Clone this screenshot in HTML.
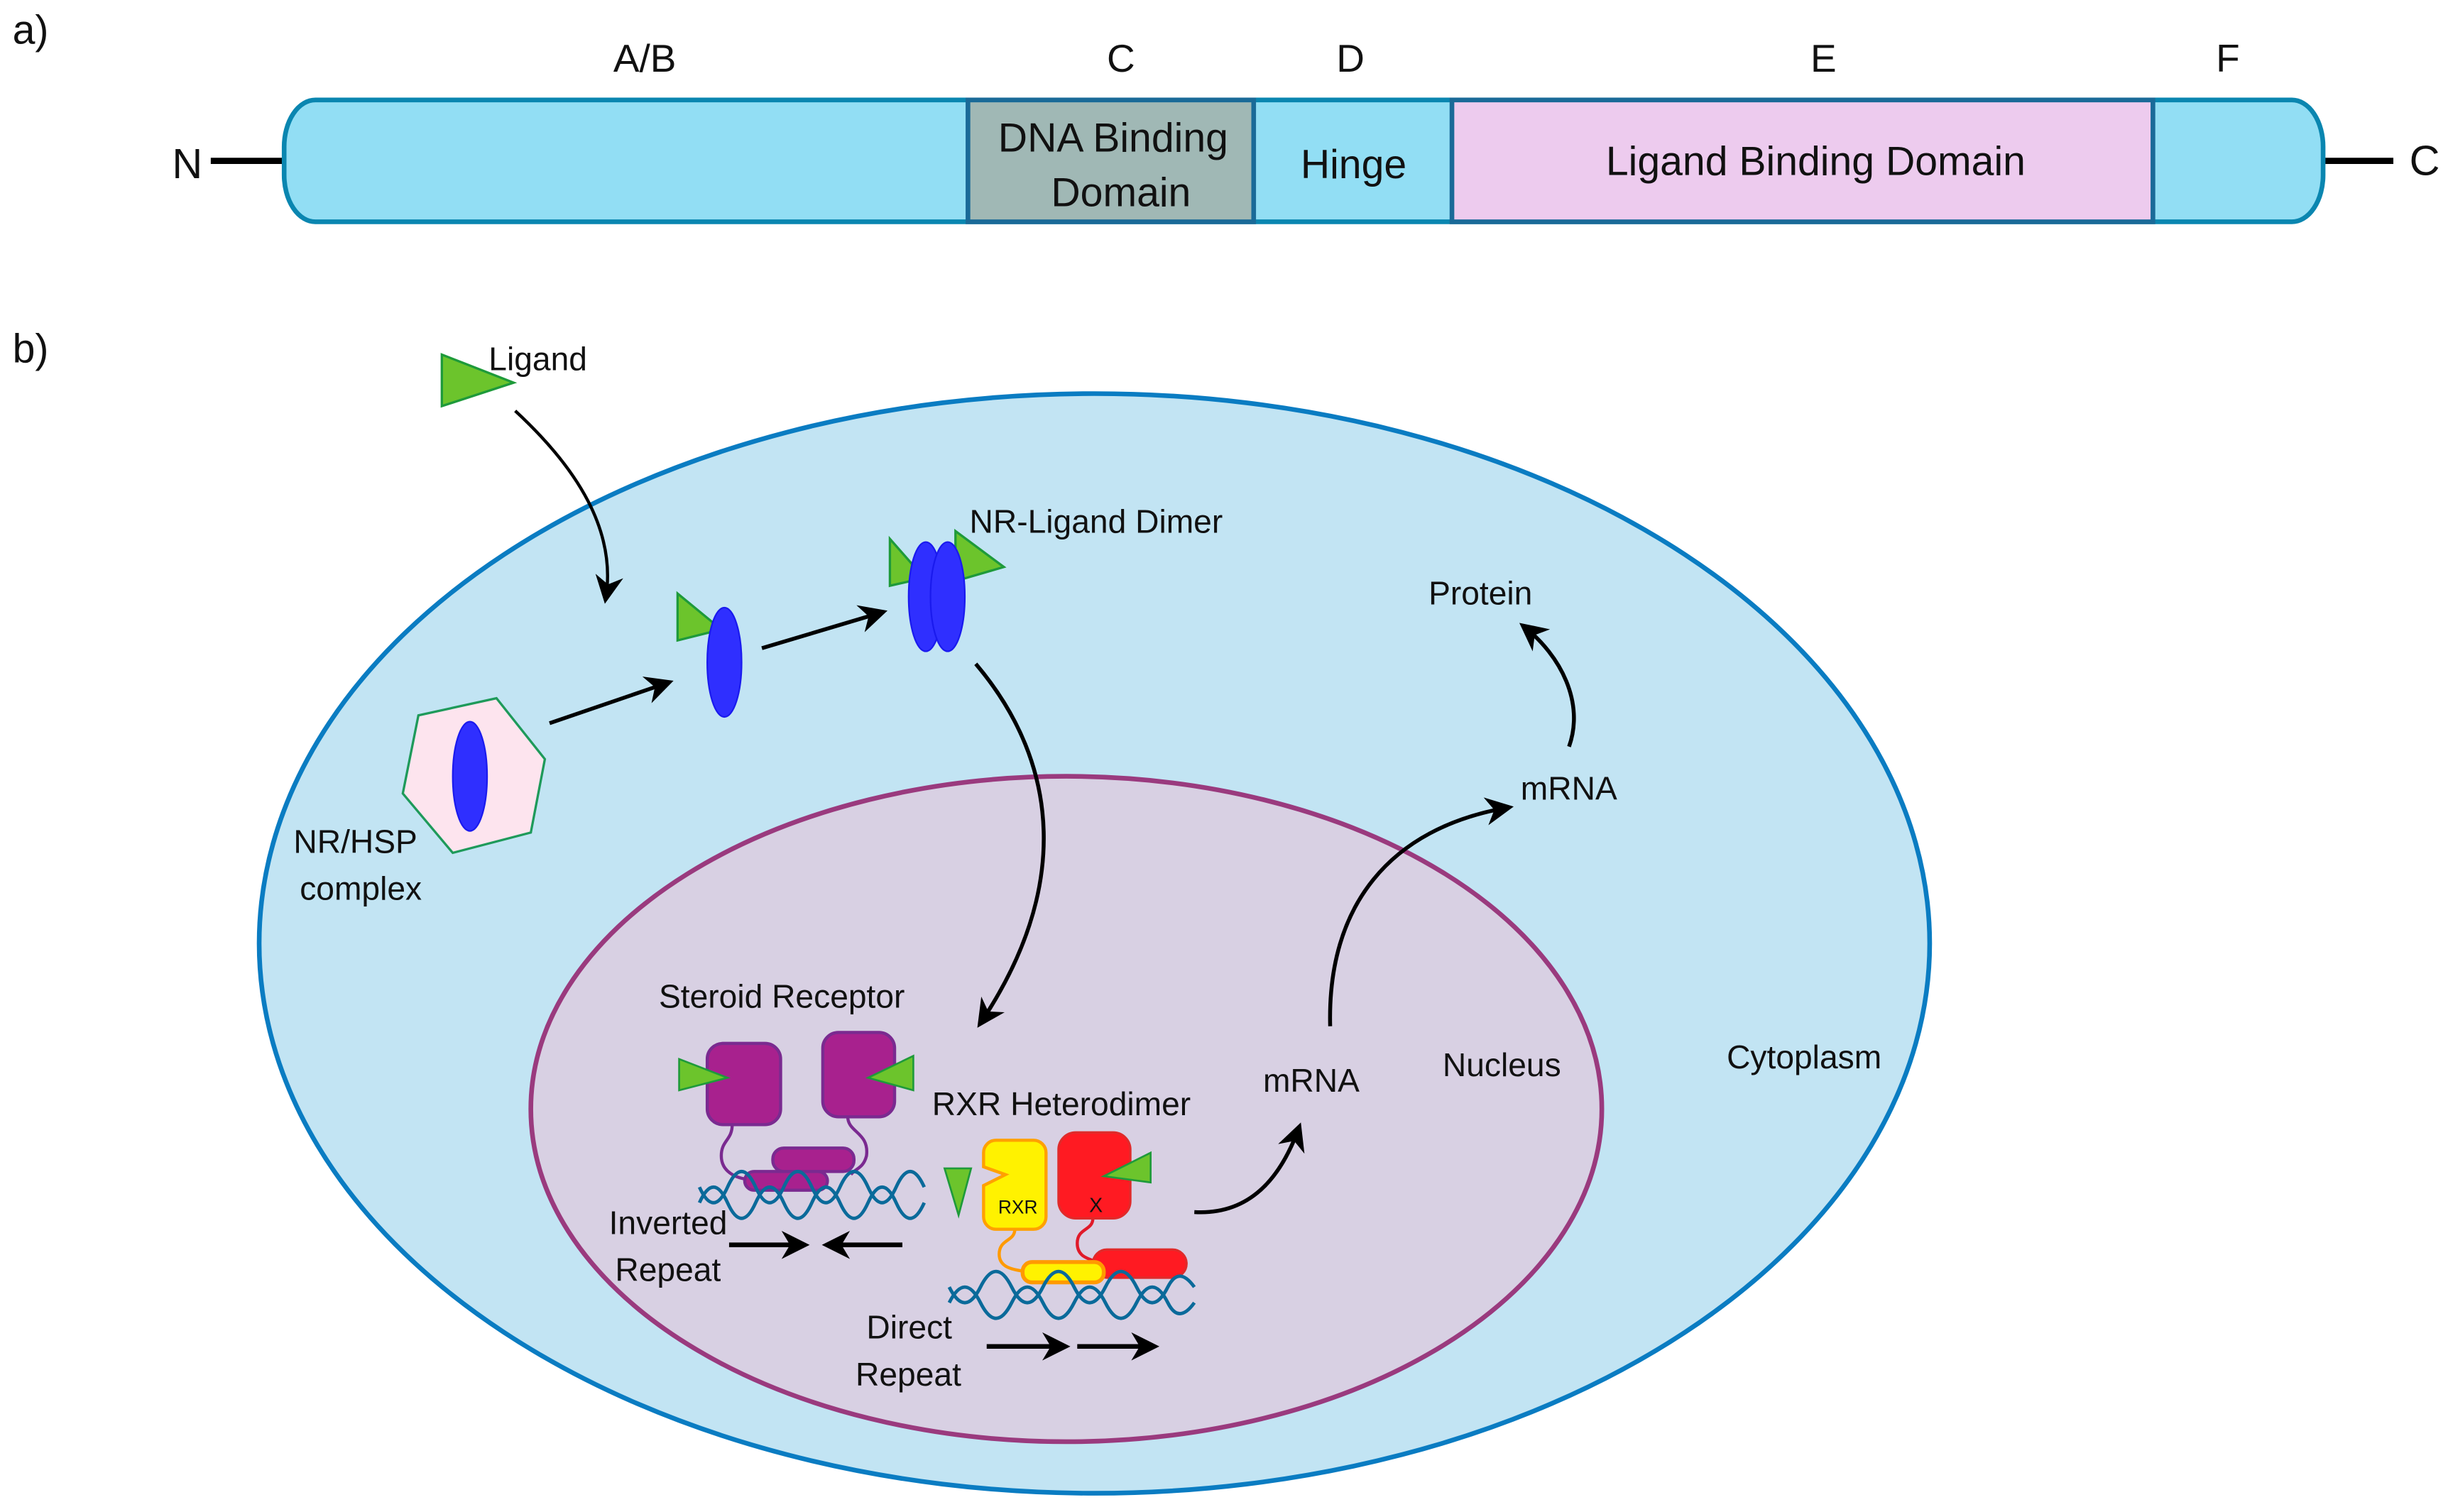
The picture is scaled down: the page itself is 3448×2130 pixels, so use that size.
<!DOCTYPE html>
<html><head><meta charset="utf-8"><style>
html,body{margin:0;padding:0;background:#fff}
svg{display:block}
text{font-family:"Liberation Sans",sans-serif;fill:#111}
</style></head><body>
<svg width="3448" height="2130" viewBox="0 0 1568 968" preserveAspectRatio="none" xmlns="http://www.w3.org/2000/svg">
<defs>
<marker id="ah2" viewBox="0 0 10 10" refX="8" refY="5" markerWidth="18" markerHeight="18" orient="auto" markerUnits="userSpaceOnUse">
<path d="M0,0 L10,5 L0,10 L3,5 Z" fill="#000"/></marker>
</defs>
<!-- panel a -->
<text x="8" y="28" font-size="26">a)</text>
<text x="413" y="46" font-size="25" text-anchor="middle">A/B</text>
<text x="718" y="46" font-size="25" text-anchor="middle">C</text>
<text x="865" y="46" font-size="25" text-anchor="middle">D</text>
<text x="1168" y="46" font-size="25" text-anchor="middle">E</text>
<text x="1427" y="46" font-size="25" text-anchor="middle">F</text>
<line x1="135" y1="103" x2="183" y2="103" stroke="#000" stroke-width="4"/>
<line x1="1488" y1="103" x2="1533" y2="103" stroke="#000" stroke-width="4"/>
<text x="120" y="114" font-size="27" text-anchor="middle">N</text>
<text x="1553" y="112" font-size="27" text-anchor="middle">C</text>
<rect x="182" y="64" width="1306" height="78" rx="20" ry="30" fill="#92def4" stroke="#0a86b0" stroke-width="3"/>
<rect x="620" y="64" width="183" height="78" fill="#a0b8b5" stroke="#1a6a98" stroke-width="3"/>
<rect x="930" y="64" width="449" height="78" fill="#edcbee" stroke="#1a6a98" stroke-width="3"/>
<text x="713" y="97" font-size="26" text-anchor="middle">DNA Binding</text>
<text x="718" y="132" font-size="26" text-anchor="middle">Domain</text>
<text x="867" y="114" font-size="26" text-anchor="middle">Hinge</text>
<text x="1163" y="112" font-size="26" text-anchor="middle">Ligand Binding Domain</text>
<!-- panel b -->
<text x="8" y="232" font-size="26">b)</text>
<ellipse cx="701" cy="604" rx="535" ry="352" fill="#c2e4f3" stroke="#0a7cc2" stroke-width="3"/>
<ellipse cx="683" cy="710" rx="343" ry="213" fill="#d8d0e3" stroke="#9a3a7e" stroke-width="3"/>
<polygon points="283,227 283,260 329,245" fill="#6cc42c" stroke="#1e9a3a" stroke-width="1.5"/>
<text x="313" y="237" font-size="21">Ligand</text>
<path d="M330,263 C370,300 395,340 388,383" fill="none" stroke="#000" stroke-width="2" marker-end="url(#ah2)"/>
<polygon points="268,458 318,447 349,486 340,533 290,546 258,508" fill="#fde4ee" stroke="#1e9a5a" stroke-width="1.5"/>
<ellipse cx="301" cy="497" rx="11" ry="35" fill="#2f2fff" stroke="#1a1aee"/>
<text x="188" y="546" font-size="21">NR/HSP</text>
<text x="192" y="576" font-size="21">complex</text>
<path d="M352,463 L428,437" stroke="#000" stroke-width="2.5" marker-end="url(#ah2)"/>
<polygon points="434,380 434,410 462,403" fill="#6cc42c" stroke="#1e9a3a" stroke-width="1.5"/>
<ellipse cx="464" cy="424" rx="11" ry="35" fill="#2f2fff" stroke="#1a1aee"/>
<path d="M488,415 L565,392" stroke="#000" stroke-width="2.5" marker-end="url(#ah2)"/>
<polygon points="570,345 570,375 592,370" fill="#6cc42c" stroke="#1e9a3a" stroke-width="1.5"/>
<polygon points="612,340 612,372 643,363" fill="#6cc42c" stroke="#1e9a3a" stroke-width="1.5"/>
<ellipse cx="593" cy="382" rx="11" ry="35" fill="#2f2fff" stroke="#1a1aee"/>
<ellipse cx="607" cy="382" rx="11" ry="35" fill="#2f2fff" stroke="#1a1aee"/>
<text x="621" y="341" font-size="21">NR-Ligand Dimer</text>
<path d="M625,425 C680,490 685,570 628,655" fill="none" stroke="#000" stroke-width="2.5" marker-end="url(#ah2)"/>
<text x="915" y="387" font-size="21">Protein</text>
<text x="974" y="512" font-size="21">mRNA</text>
<path d="M1005,478 C1015,450 1000,420 976,401" fill="none" stroke="#000" stroke-width="2.5" marker-end="url(#ah2)"/>
<path d="M852,657 C850,580 890,530 966,517" fill="none" stroke="#000" stroke-width="2.5" marker-end="url(#ah2)"/>
<text x="809" y="699" font-size="21">mRNA</text>
<path d="M765,776 C800,778 820,755 832,722" fill="none" stroke="#000" stroke-width="2.5" marker-end="url(#ah2)"/>
<text x="924" y="689" font-size="21">Nucleus</text>
<text x="1106" y="684" font-size="21">Cytoplasm</text>
<text x="422" y="645" font-size="21">Steroid Receptor</text>
<path d="M469,720 C469,730 462,730 462,740 C462,752 475,755 480,755" fill="none" stroke="#7a2a90" stroke-width="2"/>
<path d="M543,715 C543,725 557,725 555,740 C553,748 548,748 545,752" fill="none" stroke="#7a2a90" stroke-width="2"/>
<rect x="477" y="750" width="53" height="12" rx="6" fill="#a8218e" stroke="#7a2a90" stroke-width="2"/>
<rect x="495" y="735" width="52" height="15" rx="7" fill="#a8218e" stroke="#7a2a90" stroke-width="2"/>
<rect x="453" y="668" width="47" height="52" rx="10" fill="#a8218e" stroke="#7a2a90" stroke-width="2"/>
<rect x="527" y="661" width="46" height="54" rx="10" fill="#a8218e" stroke="#7a2a90" stroke-width="2"/>
<polygon points="435,678 435,698 466,690" fill="#6cc42c" stroke="#1e9a3a" stroke-width="1.2"/>
<polygon points="585,676 585,698 556,690" fill="#6cc42c" stroke="#1e9a3a" stroke-width="1.2"/>
<g fill="none" stroke="#0a6a9a" stroke-width="2.2">
<path d="M448,770 q9,-20 18,0 q9,20 18,0 q9,-20 18,0 q9,20 18,0 q9,-20 18,0 q9,20 18,0 q9,-20 18,0 q9,20 18,0"/>
<path d="M448,760 q9,20 18,0 q9,-20 18,0 q9,20 18,0 q9,-20 18,0 q9,20 18,0 q9,-20 18,0 q9,20 18,0 q9,-20 18,0"/>
</g>
<text x="390" y="790" font-size="21">Inverted</text>
<text x="394" y="820" font-size="21">Repeat</text>
<path d="M467,797 L515,797" stroke="#000" stroke-width="3" marker-end="url(#ah2)"/>
<path d="M578,797 L530,797" stroke="#000" stroke-width="3" marker-end="url(#ah2)"/>
<text x="597" y="714" font-size="21">RXR Heterodimer</text>
<path d="M650,787 C650,795 640,793 640,803 C640,812 650,813 657,814" fill="none" stroke="#ff9a00" stroke-width="2"/>
<path d="M700,780 C700,788 690,786 690,796 C690,805 698,806 703,808" fill="none" stroke="#e01a2a" stroke-width="2"/>
<rect x="700" y="800" width="60" height="18" rx="9" fill="#ff1a22" stroke="#e02a2a" stroke-width="1.5"/>
<rect x="655" y="808" width="52" height="13" rx="6" fill="#fff200" stroke="#ff9a00" stroke-width="2.5"/>
<path d="M640,730 h22 a8,8 0 0 1 8,8 v41 a8,8 0 0 1 -8,8 h-24 a8,8 0 0 1 -8,-8 v-20 l14,-7 l-14,-5 v-9 a8,8 0 0 1 8,-8 z" fill="#fff200" stroke="#ffa000" stroke-width="2"/>
<rect x="678" y="725" width="46" height="55" rx="11" fill="#ff1a22" stroke="#e02a2a" stroke-width="1.5"/>
<polygon points="737,738 737,757 707,753" fill="#6cc42c" stroke="#1e9a3a" stroke-width="1.2"/>
<polygon points="605,748 622,748 614,778" fill="#6cc42c" stroke="#1e9a3a" stroke-width="1.2"/>
<text x="652" y="777" font-size="12" text-anchor="middle">RXR</text>
<text x="702" y="776" font-size="13" text-anchor="middle">X</text>
<g fill="none" stroke="#0a6a9a" stroke-width="2.2">
<path d="M608,834 q10,-20 20,0 q10,20 20,0 q10,-20 20,0 q10,20 20,0 q10,-20 20,0 q10,20 20,0 q10,-20 20,0 q7,14 17,0"/>
<path d="M608,824 q10,20 20,0 q10,-20 20,0 q10,20 20,0 q10,-20 20,0 q10,20 20,0 q10,-20 20,0 q10,20 20,0 q7,-14 17,0"/>
</g>
<text x="555" y="857" font-size="21">Direct</text>
<text x="548" y="887" font-size="21">Repeat</text>
<path d="M632,862 L682,862" stroke="#000" stroke-width="3" marker-end="url(#ah2)"/>
<path d="M690,862 L739,862" stroke="#000" stroke-width="3" marker-end="url(#ah2)"/>
</svg>
</body></html>
